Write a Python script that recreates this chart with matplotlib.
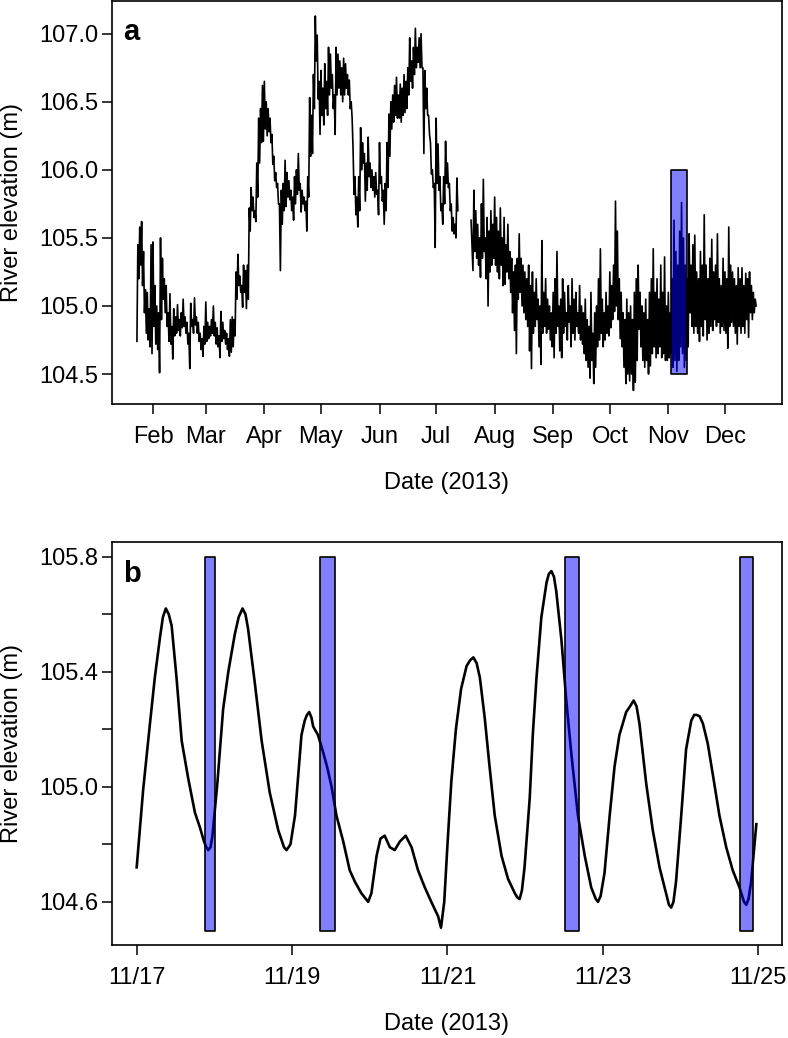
import numpy as np
import pandas as pd
import matplotlib
matplotlib.use("Agg")
import matplotlib.pyplot as plt

plt.rcParams["font.family"] = ["Liberation Sans", "DejaVu Sans"]

# --- Panel a: river elevation (m), read off the figure twice a day ---
# first stretch: from 2013-01-23 12:00, every 12 h, up to the July gap
spring_start = "2013-01-23 12:00"
elev_spring = [
    104.74,
    # Jan 24-31
    105.45, 105.20, 105.58, 105.30, 105.62, 105.15, 105.40, 104.95, 105.12, 104.80,
    105.10, 104.75, 104.98, 104.70, 105.45, 104.65,
    # Feb
    105.47, 104.85, 105.15, 104.72, 105.00, 104.68, 104.95, 104.51, 105.50, 104.90,
    105.35, 105.05, 105.20, 104.95, 105.15, 104.85, 104.95, 104.74, 105.09, 104.72,
    104.85, 104.61, 104.98, 104.78, 104.92, 104.80, 105.01, 104.82, 104.90, 104.78,
    104.95, 104.84, 105.05, 104.85, 104.92, 104.80, 104.88, 104.72, 104.80, 104.54,
    105.02, 104.85, 104.90, 104.80, 105.06, 104.86, 104.92, 104.80, 104.88, 104.74,
    104.80, 104.68, 104.76, 104.63, 104.85, 104.72,
    # Mar
    105.03, 104.74, 104.88, 104.76, 104.85, 104.78, 104.90, 104.80, 105.00, 104.78,
    104.88, 104.72, 104.84, 104.70, 104.78, 104.62, 104.96, 104.74, 104.88, 104.76,
    104.82, 104.72, 104.80, 104.68, 104.76, 104.63, 104.90, 104.66, 104.92, 104.70,
    104.90, 104.78, 105.25, 105.05, 105.38, 105.15, 105.22, 105.10, 105.15, 104.99,
    105.30, 105.10, 105.26, 104.98, 105.30, 105.05, 105.72, 105.55, 105.87, 105.70,
    105.80, 105.65, 105.70, 105.62, 106.05, 105.80, 106.38, 106.05, 106.45, 106.20,
    106.62, 106.21,
    # Apr
    106.65, 106.30, 106.50, 106.25, 106.45, 106.28, 106.38, 106.20, 106.26, 106.04,
    106.10, 105.92, 105.98, 105.87, 105.90, 105.75, 105.75, 105.26, 105.85, 105.60,
    105.90, 105.70, 106.07, 105.73, 105.98, 105.80, 105.92, 105.78, 105.85, 105.70,
    105.80, 105.63, 105.95, 105.75, 106.00, 105.82, 106.12, 105.85, 105.90, 105.69,
    105.85, 105.75, 105.80, 105.70, 105.77, 105.55, 105.95, 105.80, 106.53, 106.10,
    106.40, 106.12, 106.70, 106.45, 107.13, 106.80, 106.99, 106.52, 106.65, 106.26,
    # May
    106.73, 106.40, 106.60, 106.33, 106.78, 106.45, 106.65, 106.40, 106.90, 106.55,
    106.85, 106.60, 106.70, 106.45, 106.55, 106.26, 106.90, 106.55, 106.85, 106.60,
    106.80, 106.55, 106.75, 106.50, 106.82, 106.55, 106.78, 106.60, 106.70, 106.55,
    106.66, 106.45, 106.50, 106.38, 106.15, 105.82, 105.95, 105.67, 105.80, 105.58,
    105.95, 105.70, 106.31, 106.00, 106.20, 106.05, 106.12, 105.77, 106.05, 105.85,
    106.24, 105.95, 106.05, 105.87, 106.00, 105.85, 105.95, 105.80, 105.98, 105.82,
    105.85, 105.67,
    # Jun
    106.20, 105.90, 105.95, 105.77, 105.85, 105.60, 105.90, 105.70, 106.20, 105.87,
    106.41, 106.10, 106.50, 106.30, 106.55, 106.35, 106.62, 106.40, 106.68, 106.38,
    106.55, 106.38, 106.63, 106.35, 106.60, 106.40, 106.70, 106.42, 106.65, 106.45,
    106.75, 106.55, 106.97, 106.65, 106.80, 106.60, 106.90, 106.70, 107.04, 106.75,
    106.90, 106.79, 106.97, 106.75, 107.00, 106.75, 106.75, 106.12, 106.73, 106.45,
    106.60, 106.40, 106.40, 106.26, 106.20, 105.97, 106.00, 105.87, 105.90, 105.43,
    # Jul 1-12
    106.38, 105.90, 106.19, 105.85, 105.95, 105.70, 105.75, 105.60, 105.95, 105.75,
    106.21, 105.90, 106.05, 105.87, 105.90, 105.70, 105.75, 105.55, 105.65, 105.53,
    105.60, 105.50, 105.94, 105.70,
]

# second stretch: from 2013-07-19 12:00, every 12 h, to mid December
fall_start = "2013-07-19 12:00"
elev_fall = [
    105.63,
    # Jul 20-31
    105.45, 105.26, 105.85, 105.40, 105.70, 105.35, 105.60, 105.30, 105.50, 105.21,
    105.75, 105.35, 105.93, 105.40, 105.50, 105.20, 105.65, 105.00, 105.55, 105.25,
    105.70, 105.30, 105.60, 105.35,
    # Aug
    105.80, 105.30, 105.65, 105.25, 105.55, 105.20, 105.72, 105.30, 105.50, 105.15,
    105.65, 105.16, 105.45, 105.25, 105.60, 105.20, 105.40, 105.10, 105.35, 104.95,
    105.25, 104.82, 105.30, 104.65, 105.35, 105.05, 105.53, 105.10, 105.35, 105.00,
    105.30, 104.95, 105.25, 104.90, 105.20, 104.85, 105.30, 104.67, 105.15, 104.54,
    105.25, 104.80, 105.10, 104.85, 105.20, 104.90, 105.05, 104.70, 105.00, 104.57,
    105.48, 104.80, 105.10, 104.85, 105.20, 104.80, 105.05, 104.83, 105.00, 104.75,
    104.95, 104.70,
    # Sep
    105.10, 104.62, 105.20, 104.80, 105.40, 104.85, 105.00, 104.67, 105.05, 104.62,
    105.20, 104.80, 105.10, 104.85, 104.95, 104.75, 105.15, 104.88, 105.00, 104.70,
    105.20, 104.80, 105.05, 104.75, 105.10, 104.85, 104.95, 104.80, 105.15, 104.75,
    105.00, 104.72, 104.95, 104.65, 105.05, 104.60, 104.90, 104.55, 104.85, 104.47,
    105.10, 104.60, 104.80, 104.43, 104.95, 104.55, 105.00, 104.70, 105.20, 104.75,
    105.42, 104.80, 105.05, 104.70, 104.95, 104.75, 105.10, 104.80, 105.00, 104.78,
    # Oct
    105.25, 104.84, 105.15, 104.90, 105.30, 104.96, 105.77, 105.00, 105.55, 104.90,
    105.20, 104.76, 105.10, 104.70, 104.95, 104.55, 104.90, 104.43, 105.05, 104.50,
    104.95, 104.45, 105.00, 104.50, 104.90, 104.38, 105.10, 104.44, 105.20, 104.60,
    105.30, 104.83, 105.10, 104.70, 105.00, 104.60, 104.95, 104.55, 105.05, 104.60,
    104.90, 104.50, 105.10, 104.56, 105.20, 104.65, 105.42, 104.70, 105.10, 104.62,
    105.20, 104.65, 105.05, 104.70, 105.30, 104.62, 105.10, 104.65, 105.36, 104.60,
    105.00, 104.60,
    # Nov
    105.10, 104.62, 104.95, 104.65, 105.20, 104.55, 105.63, 104.60, 105.40, 104.52,
    105.30, 104.60, 105.55, 104.70, 105.76, 104.65, 105.50, 104.55, 105.30, 104.60,
    105.20, 104.70, 105.53, 104.95, 105.30, 104.85, 105.45, 104.80, 105.52, 104.85,
    105.25, 104.80, 105.20, 104.74, 105.40, 104.85, 105.30, 104.78, 105.67, 104.90,
    105.30, 104.75, 105.20, 104.80, 105.35, 104.85, 105.49, 104.82, 105.25, 104.90,
    105.30, 104.85, 105.53, 104.88, 105.20, 104.80, 105.15, 104.85, 105.35, 104.82,
    # Dec 1-17
    105.25, 104.80, 105.20, 104.69, 105.58, 104.85, 105.30, 104.88, 105.25, 104.85,
    105.20, 104.80, 105.15, 104.72, 105.28, 104.85, 105.20, 104.80, 105.28, 104.85,
    105.15, 104.80, 105.24, 104.90, 105.20, 104.77, 105.25, 104.95, 105.15, 104.90,
    105.10, 104.95, 105.05, 105.00,
]

month_ticks = ["2013-%02d-01" % m for m in range(2, 13)]
month_labels = ["Feb", "Mar", "Apr", "May", "Jun", "Jul", "Aug", "Sep", "Oct", "Nov", "Dec"]
yticks_a = [104.5, 105.0, 105.5, 106.0, 106.5, 107.0]

# highlighted window in panel a
window_a = ("2013-11-02 14:00", "2013-11-11 02:00")
window_a_elev = (104.5, 106.0)

# --- Panel b: zoom on 11/17 - 11/25 (hours after 11/17 00:00) ---
b_start = "2013-11-17 00:00"
hours_b = [
    0.0, 2.0, 4.1, 5.6, 7.2, 8.1, 9.0, 9.9, 10.8, 12.3,
    13.9, 15.9, 18.0, 19.5, 20.8, 21.5, 22.1, 22.8, 23.4, 24.9,
    26.7, 28.3, 30.3, 31.5, 32.7, 33.6, 34.4, 36.5, 38.6, 41.1,
    43.7, 45.5, 46.3, 47.5, 48.9, 49.9, 50.9, 51.9, 52.6, 53.3,
    54.0, 54.5, 56.0, 57.6, 58.8, 60.2, 61.7, 63.8, 65.8, 67.4,
    69.4, 71.5, 72.5, 74.1, 75.3, 76.6, 78.2, 79.7, 81.3, 83.1,
    84.9, 86.9, 89.0, 91.0, 93.1, 94.0, 95.0, 96.0, 97.2, 98.6,
    100.2, 101.9, 103.0, 104.0, 105.0, 106.0, 107.5, 109.0, 110.6, 112.7,
    114.7, 116.8, 117.6, 118.3, 119.0, 119.8, 121.4, 122.4, 123.5, 125.0,
    126.6, 127.3, 128.1, 128.9, 129.6, 131.2, 132.7, 134.3, 136.3, 138.4,
    140.4, 141.8, 142.5, 143.3, 144.5, 146.1, 147.6, 149.1, 151.2, 152.4,
    153.5, 154.4, 155.3, 157.4, 159.4, 161.5, 163.5, 164.4, 165.1, 165.8,
    166.6, 168.2, 169.7, 171.3, 172.2, 173.0, 173.9, 174.9, 176.4, 178.0,
    180.0, 182.1, 184.1, 186.2, 187.6, 188.3, 189.0, 189.8, 191.4,
]
elev_b = [
    104.72, 104.99, 105.22, 105.38, 105.52, 105.59, 105.62, 105.60, 105.56, 105.38,
    105.16, 105.03, 104.91, 104.86, 104.81, 104.79, 104.78, 104.79, 104.83, 105.01,
    105.27, 105.40, 105.53, 105.59, 105.62, 105.60, 105.55, 105.36, 105.16, 104.98,
    104.85, 104.79, 104.78, 104.80, 104.90, 105.04, 105.18, 105.23, 105.25, 105.26,
    105.24, 105.21, 105.18, 105.12, 105.07, 105.00, 104.90, 104.81, 104.71, 104.67,
    104.63, 104.60, 104.63, 104.76, 104.82, 104.83, 104.79, 104.78, 104.81, 104.83,
    104.79, 104.71, 104.65, 104.60, 104.55, 104.51, 104.60, 104.80, 105.02, 105.20,
    105.34, 105.42, 105.44, 105.45, 105.43, 105.38, 105.24, 105.07, 104.90, 104.76,
    104.68, 104.63, 104.615, 104.61, 104.64, 104.72, 104.96, 105.19, 105.38, 105.59,
    105.71, 105.74, 105.75, 105.73, 105.68, 105.51, 105.30, 105.11, 104.90, 104.76,
    104.65, 104.61, 104.60, 104.62, 104.70, 104.90, 105.07, 105.18, 105.26, 105.28,
    105.30, 105.28, 105.22, 105.01, 104.85, 104.72, 104.63, 104.59, 104.58, 104.60,
    104.67, 104.90, 105.13, 105.23, 105.25, 105.25, 105.245, 105.22, 105.15, 105.04,
    104.90, 104.79, 104.71, 104.65, 104.60, 104.59, 104.61, 104.67, 104.87,
]
xticks_b = ["2013-11-17", "2013-11-19", "2013-11-21", "2013-11-23", "2013-11-25"]
xlabels_b = ["11/17", "11/19", "11/21", "11/23", "11/25"]
yticks_b = [104.6, 104.8, 105.0, 105.2, 105.4, 105.6, 105.8]
ylabels_b = ["104.6", "", "105.0", "", "105.4", "", "105.8"]

# highlighted windows in panel b
windows_b_start = ["2013-11-17 21:10", "2013-11-19 08:30", "2013-11-22 12:10", "2013-11-24 18:20"]
windows_b_end = ["2013-11-18 00:10", "2013-11-19 13:10", "2013-11-22 16:30", "2013-11-24 22:15"]
windows_b_elev = (104.5, 105.8)

FS = 17
BOX_FACE = (0.0, 0.0, 1.0, 0.5)


def style_axes(ax):
    for s in ax.spines.values():
        s.set_linewidth(1.2)
    ax.tick_params(axis="both", direction="out", length=7.5, width=1.1,
                   labelsize=FS, color="black")
    ax.tick_params(axis="y", pad=2.5)
    ax.tick_params(axis="x", pad=8)


def shade(ax, start, end, lo, hi):
    # translucent blue box drawn over the series
    xs = pd.to_datetime([start, end])
    ax.fill_between(xs, [lo, lo], [hi, hi], facecolor=BOX_FACE,
                    edgecolor="black", linewidth=1.2, zorder=3)


def label_axes(ax, letter, y_letter):
    ax.set_ylabel("River elevation (m)", fontsize=FS, va="center")
    ax.yaxis.set_label_coords(-0.149, 0.5)
    ax.set_xlabel("Date (2013)", fontsize=FS, va="center")
    ax.xaxis.set_label_coords(0.5, -0.196)
    ax.text(0.017, y_letter, letter, transform=ax.transAxes, fontsize=21,
            fontweight="bold", va="baseline")


def plot_panel_a(ax):
    t1 = pd.date_range(spring_start, periods=len(elev_spring), freq="12h")
    t2 = pd.date_range(fall_start, periods=len(elev_fall), freq="12h")
    ax.plot(t1, elev_spring, color="black", linewidth=1.2, zorder=2)
    ax.plot(t2, elev_fall, color="black", linewidth=1.2, zorder=2)
    shade(ax, window_a[0], window_a[1], *window_a_elev)

    ax.set_xlim(pd.Timestamp("2013-01-10 07:00"), pd.Timestamp("2013-12-31 05:00"))
    ax.set_ylim(104.28, 107.24)
    ax.set_xticks(pd.to_datetime(month_ticks), month_labels)
    ax.set_yticks(yticks_a, ["%.1f" % v for v in yticks_a])
    style_axes(ax)
    label_axes(ax, "a", 0.903)


def plot_panel_b(ax):
    t = pd.Timestamp(b_start) + pd.to_timedelta(hours_b, unit="h")
    ax.plot(t, elev_b, color="black", linewidth=1.9, zorder=2,
            solid_joinstyle="round")
    for s, e in zip(windows_b_start, windows_b_end):
        shade(ax, s, e, *windows_b_elev)

    ax.set_xlim(pd.Timestamp("2013-11-16 16:22"), pd.Timestamp("2013-11-25 07:20"))
    ax.set_ylim(104.45, 105.851)
    ax.set_xticks(pd.to_datetime(xticks_b), xlabels_b)
    ax.set_yticks(yticks_b, ylabels_b)
    style_axes(ax)
    label_axes(ax, "b", 0.9007)


def main():
    fig = plt.figure(figsize=(7.88, 10.38), dpi=100)
    ax_a = fig.add_axes([0.1421, 0.6108, 0.8503, 0.3882])
    ax_b = fig.add_axes([0.1421, 0.0896, 0.8503, 0.3882])
    plot_panel_a(ax_a)
    plot_panel_b(ax_b)
    fig.savefig("out.png", dpi=100)


if __name__ == "__main__":
    main()
